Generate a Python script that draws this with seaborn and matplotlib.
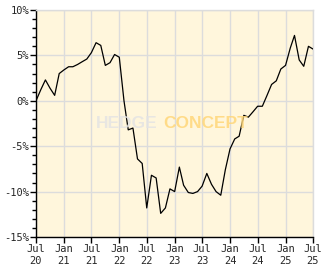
import matplotlib
matplotlib.use("Agg")
import matplotlib.pyplot as plt
import matplotlib.dates as mdates
from matplotlib.ticker import MultipleLocator, FixedLocator
import seaborn as sns
import pandas as pd
import numpy as np

start_month = "2020-07-01"
values = [0.0, 1.2, 2.3, 1.4, 0.6, 3.0, 3.4, 3.75, 3.75, 4.0,
          4.3, 4.6, 5.3, 6.4, 6.1, 3.9, 4.2, 5.1, 4.8, 0.0,
          -3.2, -3.0, -6.4, -6.9, -11.8, -8.2, -8.5, -12.4, -11.8, -9.7,
          -10.0, -7.3, -9.3, -10.1, -10.2, -10.0, -9.4, -8.0, -9.2, -10.0,
          -10.4, -7.6, -5.3, -4.2, -3.9, -1.6, -1.8, -1.2, -0.6, -0.6,
          0.6, 1.8, 2.2, 3.5, 3.9, 5.8, 7.2, 4.5, 3.8, 6.0, 5.7]
dates = pd.date_range(start_month, periods=len(values), freq="MS")
df = pd.DataFrame({"date": dates, "value": values})

tick_dates = pd.date_range("2020-07-01", "2025-07-01", freq="6MS")
tick_labels = [d.strftime("%b\n%y") for d in tick_dates]
y_ticks = [10, 5, 0, -5, -10, -15]
y_labels = ["10%", "5%", "0%", "-5%", "-10%", "-15%"]

sns.set_style("white")
plt.rcParams["font.family"] = ["DejaVu Sans Mono", "DejaVu Sans"]

fig = plt.figure(figsize=(3.32, 2.69), dpi=100)
ax = fig.add_axes([36/332, 1-237/269, (313-36)/332, (237-10)/269])
ax.set_facecolor("#FFF6DC")

sns.lineplot(data=df, x="date", y="value", ax=ax, color="black", linewidth=0.9, zorder=3)

ax.set_xlim(tick_dates[0], tick_dates[-1])
ax.set_ylim(-15, 10)
ax.xaxis.set_major_locator(FixedLocator(mdates.date2num(tick_dates)))
ax.set_xticklabels(tick_labels)
ax.set_yticks(y_ticks)
ax.set_yticklabels(y_labels)
ax.yaxis.set_minor_locator(MultipleLocator(1))
ax.grid(True, which="major", color="#DCDCDC", linewidth=1.0, zorder=0)
ax.set_axisbelow(True)
ax.tick_params(axis="both", which="major", direction="out", length=4, width=1,
               color="black", labelsize=7.5, pad=1)
ax.tick_params(axis="y", which="minor", direction="out", length=3, width=1, color="black", left=True)
ax.tick_params(axis="x", which="major", length=4, bottom=True)
ax.tick_params(axis="y", which="major", left=True)
for s in ["left", "bottom"]:
    ax.spines[s].set_color("black")
    ax.spines[s].set_linewidth(1)
for s in ["top", "right"]:
    ax.spines[s].set_color("#DCDCDC")
    ax.spines[s].set_linewidth(1)
ax.set_xlabel("")
ax.set_ylabel("")

wm_font = ["Liberation Sans Narrow", "Liberation Sans", "DejaVu Sans"]
ax.text(0.437, 0.498, "HEDGE", transform=ax.transAxes, ha="right", va="center",
        fontsize=12.5, fontweight="bold", color="#E4E4E4", alpha=0.85,
        family=wm_font, zorder=4)
ax.text(0.458, 0.498, "CONCEPT", transform=ax.transAxes, ha="left", va="center",
        fontsize=12.5, fontweight="bold", color="#FFD77A", alpha=0.85,
        family=wm_font, zorder=4)

fig.savefig("out.png", dpi=100, facecolor="white")
